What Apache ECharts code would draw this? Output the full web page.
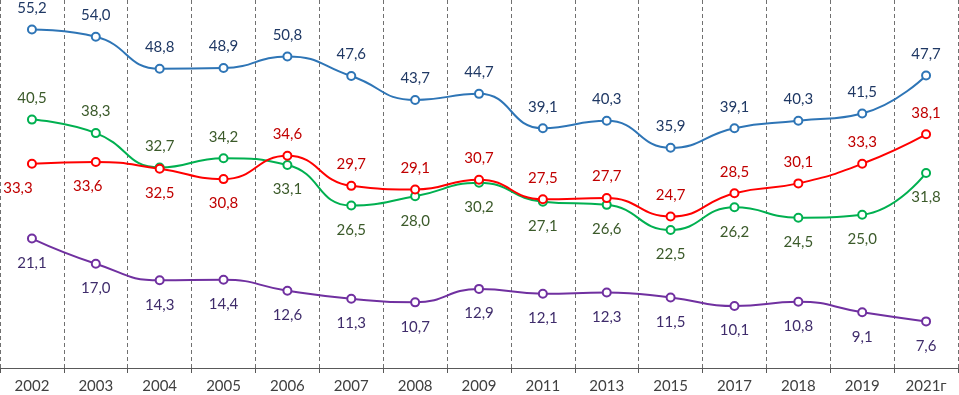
<!DOCTYPE html>
<html>
<head>
<meta charset="utf-8">
<script src="https://cdn.jsdelivr.net/npm/echarts@6/dist/echarts.min.js"></script>
<style>
html, body { margin: 0; padding: 0; background: #fff; }
#main { width: 959px; height: 395px; }
</style>
</head>
<body>
<div id="main"></div>
<script>
var years = ['2002', '2003', '2004', '2005', '2006', '2007', '2008', '2009', '2011', '2013', '2015', '2017', '2018', '2019', '2021г'];
var blueData = [55.2, 54.0, 48.8, 48.9, 50.8, 47.6, 43.7, 44.7, 39.1, 40.3, 35.9, 39.1, 40.3, 41.5, 47.7];
var greenData = [40.5, 38.3, 32.7, 34.2, 33.1, 26.5, 28.0, 30.2, 27.1, 26.6, 22.5, 26.2, 24.5, 25.0, 31.8];
var redData = [33.3, 33.6, 32.5, 30.8, 34.6, 29.7, 29.1, 30.7, 27.5, 27.7, 24.7, 28.5, 30.1, 33.3, 38.1];
var purpleData = [21.1, 17.0, 14.3, 14.4, 12.6, 11.3, 10.7, 12.9, 12.1, 12.3, 11.5, 10.1, 10.8, 9.1, 7.6];
// positions of the labels: t = above, b = below
var greenPos = ['t', 't', 't', 't', 'b', 'b', 'b', 'b', 'b', 'b', 'b', 'b', 'b', 'b', 'b'];
var redPos = ['b', 'b', 'b', 'b', 't', 't', 't', 't', 't', 't', 't', 't', 't', 't', 't'];

var font = 'Lato, "Open Sans", sans-serif';

function fmt(p) {
    return p.value.toFixed(1).replace('.', ',');
}

function makeData(values, pos, shift) {
    var list = [];
    for (var i = 0; i < values.length; i++) {
        var top = pos[i] == 't';
        var item = { value: values[i], label: { position: top ? 'top' : 'bottom', distance: top ? 9 : 12 } };
        if (shift && shift[i]) item.label.offset = [shift[i], 0];
        list.push(item);
    }
    return list;
}

function makeSeries(name, values, pos, lineColor, textColor, shift) {
    return {
        name: name,
        type: 'line',
        smooth: 0.5,
        data: makeData(values, pos, shift),
        symbol: 'circle',
        symbolSize: 8,
        itemStyle: { color: '#fff', borderColor: lineColor, borderWidth: 2 },
        lineStyle: { color: lineColor, width: 2 },
        label: {
            show: true,
            formatter: fmt,
            color: textColor,
            fontSize: 15,
            fontFamily: font
        },
        emphasis: { disabled: true },
        z: 3
    };
}

var allTop = years.map(function() { return 't'; });
var allBottom = years.map(function() { return 'b'; });

var myChart = echarts.init(document.getElementById('main'));
var option = {
    animation: false,
    grid: { left: 0, right: 1, top: 0, bottom: 27, containLabel: false },
    xAxis: {
        type: 'category',
        data: years,
        boundaryGap: true,
        axisLine: { lineStyle: { color: '#595959', width: 1 } },
        axisTick: { show: true, length: 5, lineStyle: { color: '#595959' } },
        axisLabel: { color: '#404040', fontSize: 15, fontFamily: font, margin: 11 },
        splitLine: { show: true, lineStyle: { color: '#707070', type: [4, 3], width: 1 } }
    },
    yAxis: {
        type: 'value',
        min: 0,
        max: 60,
        show: false,
        splitLine: { show: false }
    },
    series: [
        makeSeries('blue', blueData, allTop, '#2E75B6', '#1F3864'),
        makeSeries('green', greenData, greenPos, '#00B050', '#3B5A2A'),
        makeSeries('red', redData, redPos, '#FF0000', '#C00000', [-14, -8]),
        makeSeries('purple', purpleData, allBottom, '#7030A0', '#3F2C6B')
    ]
};
myChart.setOption(option);
</script>
</body>
</html>
